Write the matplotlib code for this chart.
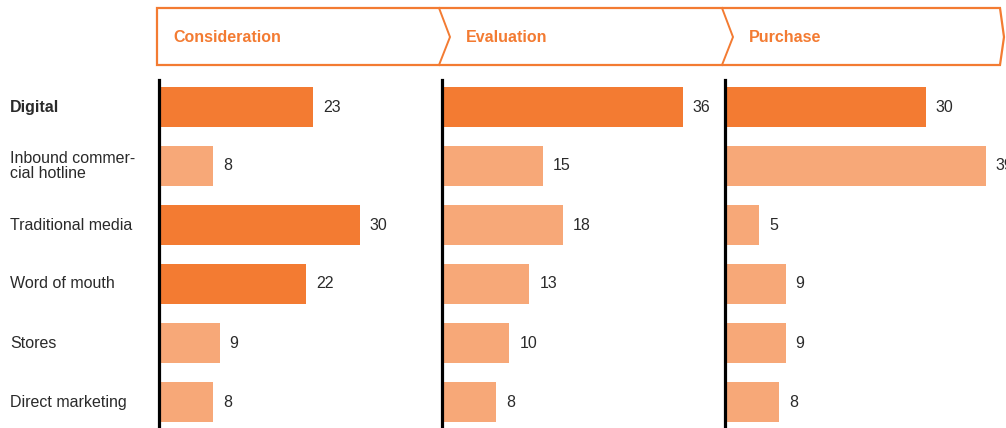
import numpy as np
import matplotlib.pyplot as plt
from matplotlib.patches import Polygon

plt.rcParams['font.family'] = ['Liberation Sans', 'DejaVu Sans']

# data
stages = ['Consideration', 'Evaluation', 'Purchase']
channels = ['Digital', 'Inbound commer-\ncial hotline', 'Traditional media',
            'Word of mouth', 'Stores', 'Direct marketing']
consideration = [23, 8, 30, 22, 9, 8]
evaluation = [36, 15, 18, 13, 10, 8]
purchase = [30, 39, 5, 9, 9, 8]
# which bars are highlighted (dark orange)
highlight = [[1, 0, 1, 1, 0, 0],
             [1, 0, 0, 0, 0, 0],
             [1, 0, 0, 0, 0, 0]]

DARK = '#F37B32'
LIGHT = '#F7A878'
W, H = 1006, 428

fig = plt.figure(figsize=(W / 100, H / 100), dpi=100)

# overlay in pixel coords for header and row labels
bg = fig.add_axes([0, 0, 1, 1])
bg.set_xlim(0, W)
bg.set_ylim(H, 0)
bg.axis('off')

# header box with chevrons
box = Polygon([(157, 8), (1000, 8), (1004, 37), (1000, 65), (157, 65)],
              closed=True, fill=False, edgecolor=DARK, lw=1.6)
bg.add_patch(box)
for cx in [439, 722]:
    bg.plot([cx, cx + 11, cx], [8, 37, 65], color=DARK, lw=1.4,
            solid_joinstyle='miter')
for sx, name in zip([173, 466, 749], stages):
    bg.text(sx, 37, name, color=DARK, fontsize=11.5, fontweight='bold',
            va='center', ha='left')

# row labels
row_y0, row_dy = 107, 59
for i, ch in enumerate(channels):
    bg.text(10, row_y0 + row_dy * i, ch, fontsize=11.5, color='#2a2a2a',
            va='center', ha='left', linespacing=1.0,
            fontweight='bold' if i == 0 else 'normal')

# bar panels
px_per_unit = 6.67
panel_left = [159, 442, 725]
panel_w = 270
top_px, bot_px = 80, H
y_top = (top_px - row_y0) / row_dy
y_bot = (bot_px - row_y0) / row_dy

series = [consideration, evaluation, purchase]
y = np.arange(len(channels))
for k, vals in enumerate(series):
    ax = fig.add_axes([panel_left[k] / W, 0, panel_w / W, (H - top_px) / H])
    ax.set_xlim(0, panel_w / px_per_unit)
    ax.set_ylim(y_bot, y_top)
    cols = [DARK if h else LIGHT for h in highlight[k]]
    ax.barh(y, vals, height=0.68, color=cols, left=0.1)
    for yi, v in zip(y, vals):
        ax.text(v + 0.1 + 1.5, yi, str(v), va='center', ha='left',
                fontsize=11.5, color='#2a2a2a', clip_on=False)
    for s in ['top', 'right', 'bottom']:
        ax.spines[s].set_visible(False)
    ax.spines['left'].set_linewidth(2.3)
    ax.spines['left'].set_color('black')
    ax.set_xticks([])
    ax.set_yticks([])
    ax.patch.set_alpha(0)

fig.savefig('out.png', dpi=100)
